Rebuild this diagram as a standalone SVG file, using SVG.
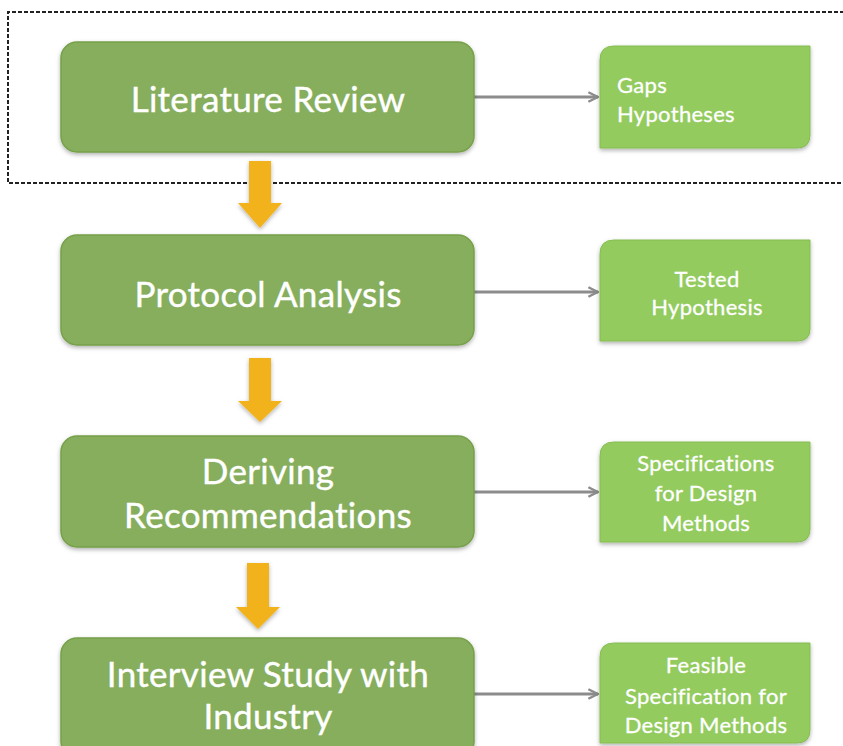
<svg xmlns="http://www.w3.org/2000/svg" width="843" height="746" viewBox="0 0 843 746">
<defs>
<style>
.main rect{fill:#86ae5d;stroke:#76a049;stroke-width:1.5}
.main text{fill:#ffffff;font-family:Lato,"Open Sans",sans-serif;font-size:35px;letter-spacing:0.3px;text-anchor:middle;stroke:#ffffff;stroke-width:0.4}
.out path{fill:#93cb5f;stroke:#86bd52;stroke-width:1}
.out text{fill:#ffffff;font-family:Lato,"Open Sans",sans-serif;font-size:22px;letter-spacing:0.3px;stroke:#ffffff;stroke-width:0.3}
.flow{fill:#f2b21c}
.link{stroke:#8c8c8c;stroke-width:3;fill:none}
</style>
<filter id="sh" x="-10%" y="-10%" width="120%" height="130%">
<feDropShadow dx="0" dy="2" stdDeviation="2" flood-color="#000" flood-opacity="0.3"/>
</filter>
<marker id="ah" viewBox="0 0 10 10" refX="9" refY="5" markerWidth="4" markerHeight="4" orient="auto" markerUnits="strokeWidth">
<path d="M1,1 L9,5 L1,9" fill="none" stroke="#8c8c8c" stroke-width="2"/>
</marker>
</defs>
<rect width="843" height="746" fill="#ffffff"/>
<path d="M850,12 H8 V183 H850" fill="none" stroke="#222" stroke-width="2" stroke-dasharray="4,2"/>

<g id="connectors">
<line class="link" x1="474" y1="97" x2="598" y2="97" marker-end="url(#ah)"/>
<line class="link" x1="474" y1="292" x2="598" y2="292" marker-end="url(#ah)"/>
<line class="link" x1="474" y1="492" x2="598" y2="492" marker-end="url(#ah)"/>
<line class="link" x1="474" y1="694" x2="598" y2="694" marker-end="url(#ah)"/>
<path class="flow" filter="url(#sh)" d="M249,161 H271 V203 H282 L260,228 L238,203 H249 Z"/>
<path class="flow" filter="url(#sh)" d="M249,358 H271 V401 H282 L260,422 L238,401 H249 Z"/>
<path class="flow" filter="url(#sh)" d="M247,563 H269 V607 H280 L258,629 L236,607 H247 Z"/>
</g>

<g id="literature-review" class="main">
<rect x="61" y="42" width="413" height="110" rx="16" filter="url(#sh)"/>
<text x="268" y="112">Literature Review</text>
</g>
<g id="protocol-analysis" class="main">
<rect x="61" y="235" width="413" height="110" rx="16" filter="url(#sh)"/>
<text x="268" y="307">Protocol Analysis</text>
</g>
<g id="deriving-recommendations" class="main">
<rect x="61" y="436" width="413" height="111" rx="16" filter="url(#sh)"/>
<text x="268" y="484">Deriving</text>
<text x="268" y="528">Recommendations</text>
</g>
<g id="interview-study" class="main">
<rect x="61" y="638" width="413" height="120" rx="16" filter="url(#sh)"/>
<text x="268" y="687">Interview Study with</text>
<text x="268" y="729">Industry</text>
</g>

<g id="gaps-hypotheses" class="out">
<path filter="url(#sh)" d="M614,46 H810 V135 Q810,148 797,148 H600 V60 Q600,46 614,46 Z"/>
<text x="617" y="93">Gaps</text>
<text x="617" y="122">Hypotheses</text>
</g>
<g id="tested-hypothesis" class="out">
<path filter="url(#sh)" d="M614,240 H810 V329 Q810,341 797,341 H600 V254 Q600,240 614,240 Z"/>
<text x="707" y="287" text-anchor="middle">Tested</text>
<text x="707" y="315" text-anchor="middle">Hypothesis</text>
</g>
<g id="specifications" class="out">
<path filter="url(#sh)" d="M614,442 H810 V529 Q810,542 797,542 H600 V456 Q600,442 614,442 Z"/>
<text x="706" y="471" text-anchor="middle">Specifications</text>
<text x="706" y="501" text-anchor="middle">for Design</text>
<text x="706" y="531" text-anchor="middle">Methods</text>
</g>
<g id="feasible-specification" class="out">
<path filter="url(#sh)" d="M614,643 H810 V730 Q810,743 797,743 H600 V657 Q600,643 614,643 Z"/>
<text x="706" y="673" text-anchor="middle">Feasible</text>
<text x="706" y="704" text-anchor="middle">Specification for</text>
<text x="706" y="733" text-anchor="middle">Design Methods</text>
</g>
</svg>
